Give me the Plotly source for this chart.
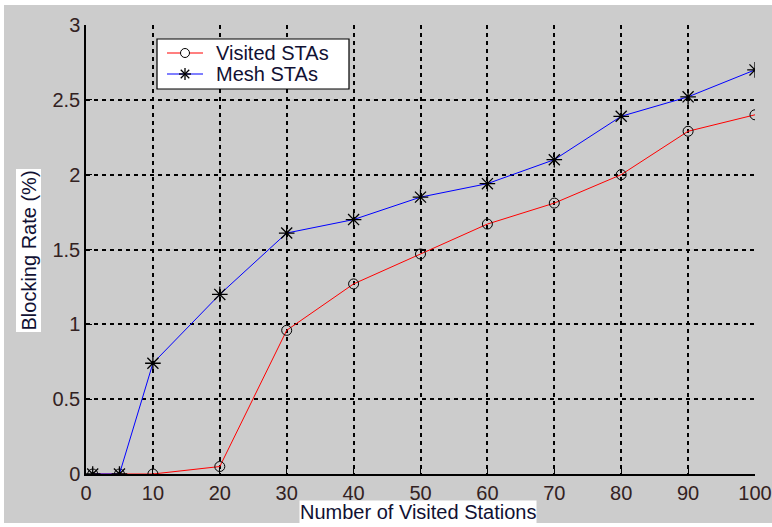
import plotly.graph_objects as go

x_vals = [1, 5, 10, 20, 30, 40, 50, 60, 70, 80, 90, 100]
visited = [0, 0, 0, 0.05, 0.96, 1.27, 1.47, 1.67, 1.81, 2.0, 2.29, 2.40]
mesh = [0, 0, 0.74, 1.2, 1.61, 1.70, 1.85, 1.94, 2.10, 2.39, 2.52, 2.70]
x_ticks = [0, 10, 20, 30, 40, 50, 60, 70, 80, 90, 100]
y_ticks = [0, 0.5, 1, 1.5, 2, 2.5, 3]
y_tick_text = ["0", "0.5", "1", "1.5", "2", "2.5", "3"]
series_names = ["Visited STAs", "Mesh STAs"]
series_colors = ["#ff0000", "#0000ff"]

W, H = 772, 527
L, R, T, B = 86, 755, 25, 474
pw, ph = R - L, B - T

def px(xp):
    return (xp - L) / pw

def py(yp):
    return (B - yp) / ph

FONT = "Liberation Sans, Arial, sans-serif"
FS = 20
TXT = "#111133"

fig = go.Figure()
fig.add_trace(go.Scatter(
    x=x_vals, y=visited, name=series_names[0], mode="lines+markers",
    line=dict(color=series_colors[0], width=1),
    marker=dict(symbol="circle-open", color="black", size=10, line=dict(width=1, color="black")),
))
fig.add_trace(go.Scatter(
    x=x_vals, y=mesh, name=series_names[1], mode="lines+markers",
    line=dict(color=series_colors[1], width=1),
    marker=dict(symbol="asterisk-open", color="black", size=13, line=dict(width=1.3, color="black")),
))

shapes = [dict(type="rect", xref="paper", yref="paper", layer="below",
               x0=px(4), x1=px(773), y0=py(5), y1=py(523),
               fillcolor="#cccccc", line=dict(width=0))]

# manual legend (box, line samples, marker glyphs)
lx0, lx1, ly0, ly1 = 157, 349, 39, 89
rows = [53, 74]
shapes.append(dict(type="rect", xref="paper", yref="paper", layer="above",
                   x0=px(lx0), x1=px(lx1), y0=py(ly1), y1=py(ly0),
                   fillcolor="white", line=dict(color="black", width=1.2)))
annotations = []
for i, yr in enumerate(rows):
    shapes.append(dict(type="line", xref="paper", yref="paper", layer="above",
                       x0=px(167), x1=px(203), y0=py(yr), y1=py(yr),
                       line=dict(color=series_colors[i], width=1.2)))
    annotations.append(dict(text=series_names[i], xref="paper", yref="paper",
                            x=px(214), y=py(yr), showarrow=False,
                            xanchor="left", yanchor="middle",
                            font=dict(size=FS, color=TXT)))
cx = 185
r = 4.5
shapes.append(dict(type="circle", xref="paper", yref="paper", layer="above",
                   x0=px(cx - r), x1=px(cx + r), y0=py(rows[0] + r), y1=py(rows[0] - r),
                   fillcolor="white", line=dict(color="black", width=1)))
a = 6
d = a * 0.707
for (dx, dy) in [(a, 0), (0, a), (d, d), (d, -d)]:
    shapes.append(dict(type="line", xref="paper", yref="paper", layer="above",
                       x0=px(cx - dx), x1=px(cx + dx), y0=py(rows[1] - dy), y1=py(rows[1] + dy),
                       line=dict(color="black", width=1.3)))

annotations += [
    dict(text="Blocking Rate (%)", xref="paper", yref="paper",
         x=px(28.5), y=py(251), textangle=-90, showarrow=False,
         bgcolor="white", font=dict(size=FS, color=TXT),
         xanchor="center", yanchor="middle", borderpad=1),
    dict(text="Number of Visited Stations", xref="paper", yref="paper",
         x=px(418), y=py(512), showarrow=False,
         bgcolor="white", font=dict(size=FS, color=TXT),
         xanchor="center", yanchor="middle", borderpad=0),
]

fig.update_layout(
    template="none",
    width=W, height=H,
    margin=dict(l=L, r=W - R, t=T, b=H - B, pad=0, autoexpand=False),
    paper_bgcolor="white", plot_bgcolor="white",
    font=dict(family=FONT, size=FS, color="#222222"),
    showlegend=False,
    shapes=shapes,
    annotations=annotations,
)

axis_common = dict(
    ticks="inside", ticklen=6, tickcolor="black", tickwidth=1.2,
    showline=True, linecolor="black", linewidth=1.5, mirror=False,
    showgrid=True, gridcolor="black", gridwidth=1.5, griddash="4px,4px",
    zeroline=False, tickfont=dict(size=FS, color="#332222"), fixedrange=True,
    automargin=False,
)
fig.update_xaxes(range=[0, 100], tickvals=x_ticks, **axis_common)
fig.update_yaxes(range=[0, 3], tickvals=y_ticks, ticktext=y_tick_text, **axis_common)

fig.write_html("out.html",
               config={"responsive": False, "displayModeBar": False},
               post_script="document.body.style.margin='0px';document.body.style.overflow='hidden';")
